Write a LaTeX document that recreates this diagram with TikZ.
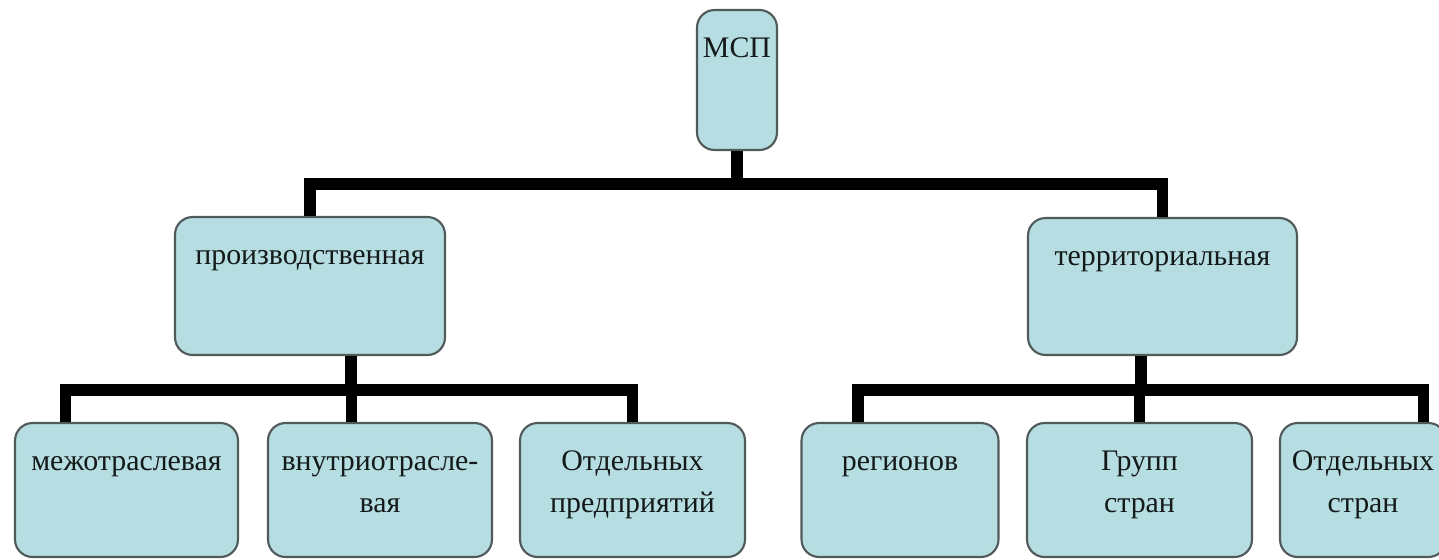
\documentclass[tikz,border=0pt]{standalone}
\usepackage{fontspec}
\setmainfont{Liberation Serif}
\usepackage{xcolor}
\usepackage{tikz}
\usetikzlibrary{calc}
\definecolor{cellblue}{RGB}{182,221,225}
\definecolor{celledge}{RGB}{80,90,90}
\definecolor{cellink}{RGB}{20,26,26}
\newcommand{\cellbody}[3]{\parbox[c][#2][t]{#1}{\centering\vspace*{0.35cm}\strut #3}}

\begin{document}
\begin{tikzpicture}[
                x=0.02cm, y=-0.02cm,
                cell/.style={rectangle, draw=celledge, fill=cellblue, rounded corners=0.35cm, line width=1.2pt, inner sep=0pt, text=cellink, font=\fontsize{17}{24}\selectfont},
                bar/.style={line width=0.23cm, black}
            ]
                \clip (0,0) rectangle (1439,559);
                \fill[white] (0,0) rectangle (1439,559);

                \node[cell] (msp) at (737,80) {\cellbody{1.6cm}{2.8cm}{МСП}};
                \node[cell] (prod) at (310,286) {\cellbody{5.4cm}{2.76cm}{производственная}};
                \node[cell] (terr) at (1162.5,286.5) {\cellbody{5.38cm}{2.74cm}{территориальная}};

                \node[cell] (inter) at (126.5,490) {\cellbody{4.46cm}{2.68cm}{межотраслевая}};
                \node[cell] (intra) at (380,490) {\cellbody{4.48cm}{2.68cm}{внутриотрасле-\\вая}};
                \node[cell] (firms) at (632.5,490) {\cellbody{4.5cm}{2.68cm}{Отдельных\\предприятий}};
                \node[cell] (regions) at (900,490) {\cellbody{3.94cm}{2.68cm}{регионов}};
                \node[cell] (groups) at (1139.5,490) {\cellbody{4.5cm}{2.68cm}{Групп\\стран}};
                \node[cell] (countries) at (1363,490) {\cellbody{3.32cm}{2.68cm}{Отдельных\\стран}};

                % bar heights and drop points
                \coordinate (topbar) at (737,184);
                \coordinate (lowbar) at (0,390);
                \coordinate (pdrop) at ($(prod.south west)!.65!(prod.south east)$);
                \coordinate (tdrop) at ($(terr.south west)!.42!(terr.south east)$);
                \coordinate (d1) at ($(inter.north west)!.23!(inter.north east)$);
                \coordinate (d2) at ($(intra.north west)!.375!(intra.north east)$);
                \coordinate (d3) at (firms.north);
                \coordinate (d4) at ($(regions.north west)!.29!(regions.north east)$);
                \coordinate (d5) at (groups.north);
                \coordinate (d6) at ($(countries.north west)!.86!(countries.north east)$);

                \draw[bar] (msp) -- (topbar);
                \draw[bar] (prod.north) |- (topbar) -| (terr.north);

                \draw[bar] (pdrop) -- (pdrop |- lowbar);
                \draw[bar] (d1) |- (d3 |- lowbar) -- (d3);
                \draw[bar] (d2) -- (d2 |- lowbar);

                \draw[bar] (tdrop) -- (tdrop |- lowbar);
                \draw[bar] (d4) |- (d6 |- lowbar) -- (d6);
                \draw[bar] (d5) -- (d5 |- lowbar);
            \end{tikzpicture}
\end{document}
